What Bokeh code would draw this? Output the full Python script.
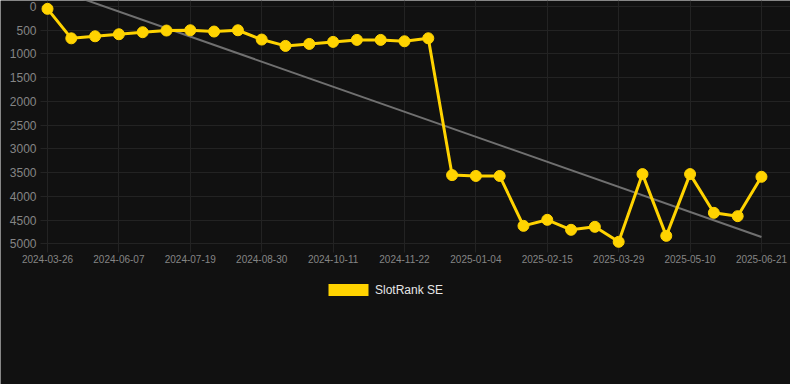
import numpy as np
from bokeh.plotting import figure
from bokeh.models import Range1d, FixedTicker, Legend, LegendItem, ColumnDataSource
from bokeh.embed import file_html
from bokeh.resources import INLINE

dates = [
    "2024-03-26", "2024-05-10", "2024-05-24", "2024-06-07", "2024-06-21",
    "2024-07-05", "2024-07-19", "2024-08-02", "2024-08-16", "2024-08-30",
    "2024-09-13", "2024-09-27", "2024-10-11", "2024-10-25", "2024-11-08",
    "2024-11-22", "2024-12-06", "2024-12-20", "2025-01-04", "2025-01-18",
    "2025-02-01", "2025-02-15", "2025-03-01", "2025-03-15", "2025-03-29",
    "2025-04-12", "2025-04-26", "2025-05-10", "2025-05-24", "2025-06-07",
    "2025-06-21",
]
ranks = [
    49, 670, 627, 584, 541, 506, 500, 527, 500, 696,
    830, 788, 745, 703, 703, 732, 669, 3552, 3570, 3570,
    4621, 4494, 4705, 4642, 4958, 3531, 4832, 3531, 4347, 4417,
    3587,
]
x_tick_idx = [0, 3, 6, 9, 12, 15, 18, 21, 24, 27, 30]
y_ticks = [0, 500, 1000, 1500, 2000, 2500, 3000, 3500, 4000, 4500, 5000]
series_name = "SlotRank SE"

idx = list(range(len(dates)))
slope, intercept = np.polyfit(idx, ranks, 1)
trend_x = [float(idx[0]), float(idx[-1])]
trend_y = [float(intercept + slope * i) for i in trend_x]

BG = "#111111"
GOLD = "#ffd300"
GRID = "#232323"

# the frame covers the whole picture; axes are pinned inside it
X_LEFT, X_RIGHT = -1.975, 31.22
Y_TOP, Y_BOTTOM = -127, 7964
Y_AXIS_AT = -0.294      # left edge of the plotting area
X_AXIS_AT = 5000        # bottom edge of the plotting area

p = figure(
    frame_width=790, frame_height=384,
    output_backend="svg", toolbar_location=None,
    x_range=Range1d(X_LEFT, X_RIGHT), y_range=Range1d(Y_BOTTOM, Y_TOP),
    min_border=0,
    background_fill_color=BG, border_fill_color=BG,
)
p.outline_line_color = None

src = ColumnDataSource(dict(x=idx, y=ranks))
p.line(trend_x, trend_y, line_color="#707070", line_width=2)
p.line("x", "y", source=src, line_color=GOLD, line_width=3)
p.scatter("x", "y", source=src, size=11, fill_color=GOLD, line_color=GOLD)

legend_src = ColumnDataSource(dict(l=[-10.0], r=[-9.0], t=[-1000.0], b=[-900.0]))
legend_r = p.quad(left="l", right="r", top="t", bottom="b", source=legend_src,
                  fill_color=GOLD, line_color=None)

for ax in (p.xaxis[0], p.yaxis[0]):
    ax.axis_line_color = None
    ax.major_tick_line_color = None
    ax.minor_tick_line_color = None
    ax.major_tick_out = 0
    ax.major_tick_in = 0
    ax.major_label_text_color = "#858585"
    ax.major_label_text_font = "Liberation Sans"

p.xaxis[0].ticker = FixedTicker(ticks=x_tick_idx)
p.xaxis[0].major_label_overrides = {i: dates[i] for i in x_tick_idx}
p.xaxis[0].major_label_text_font_size = "10px"
p.xaxis[0].major_label_standoff = 11
p.xaxis[0].fixed_location = X_AXIS_AT

p.yaxis[0].ticker = FixedTicker(ticks=y_ticks)
p.yaxis[0].major_label_text_font_size = "12px"
p.yaxis[0].major_label_standoff = 4
p.yaxis[0].fixed_location = Y_AXIS_AT

p.ygrid.grid_line_color = GRID
p.xgrid.grid_line_color = GRID
try:
    p.xgrid.cross_bounds = (Y_TOP, 5190)
    p.ygrid.cross_bounds = (Y_AXIS_AT, X_RIGHT)
except Exception:
    p.xgrid.visible = False
    p.ygrid.visible = False
    p.segment(x0=x_tick_idx, y0=[Y_TOP] * len(x_tick_idx),
              x1=x_tick_idx, y1=[5190] * len(x_tick_idx),
              line_color=GRID, line_width=1)
    p.segment(x0=[Y_AXIS_AT] * len(y_ticks), y0=y_ticks,
              x1=[X_RIGHT] * len(y_ticks), y1=y_ticks,
              line_color=GRID, line_width=1)

legend = Legend(
    items=[LegendItem(label=series_name, renderers=[legend_r])],
    orientation="horizontal", location=(323, 87),
    glyph_width=50, glyph_height=15, label_height=15, label_standoff=2,
    label_text_font="Liberation Sans", label_text_font_size="12px",
    label_text_color="#e6e6e6",
    background_fill_alpha=0.0, border_line_color=None,
    padding=5, margin=0,
)
p.add_layout(legend, "center")

open("out.html", "w").write(file_html(p, INLINE))
